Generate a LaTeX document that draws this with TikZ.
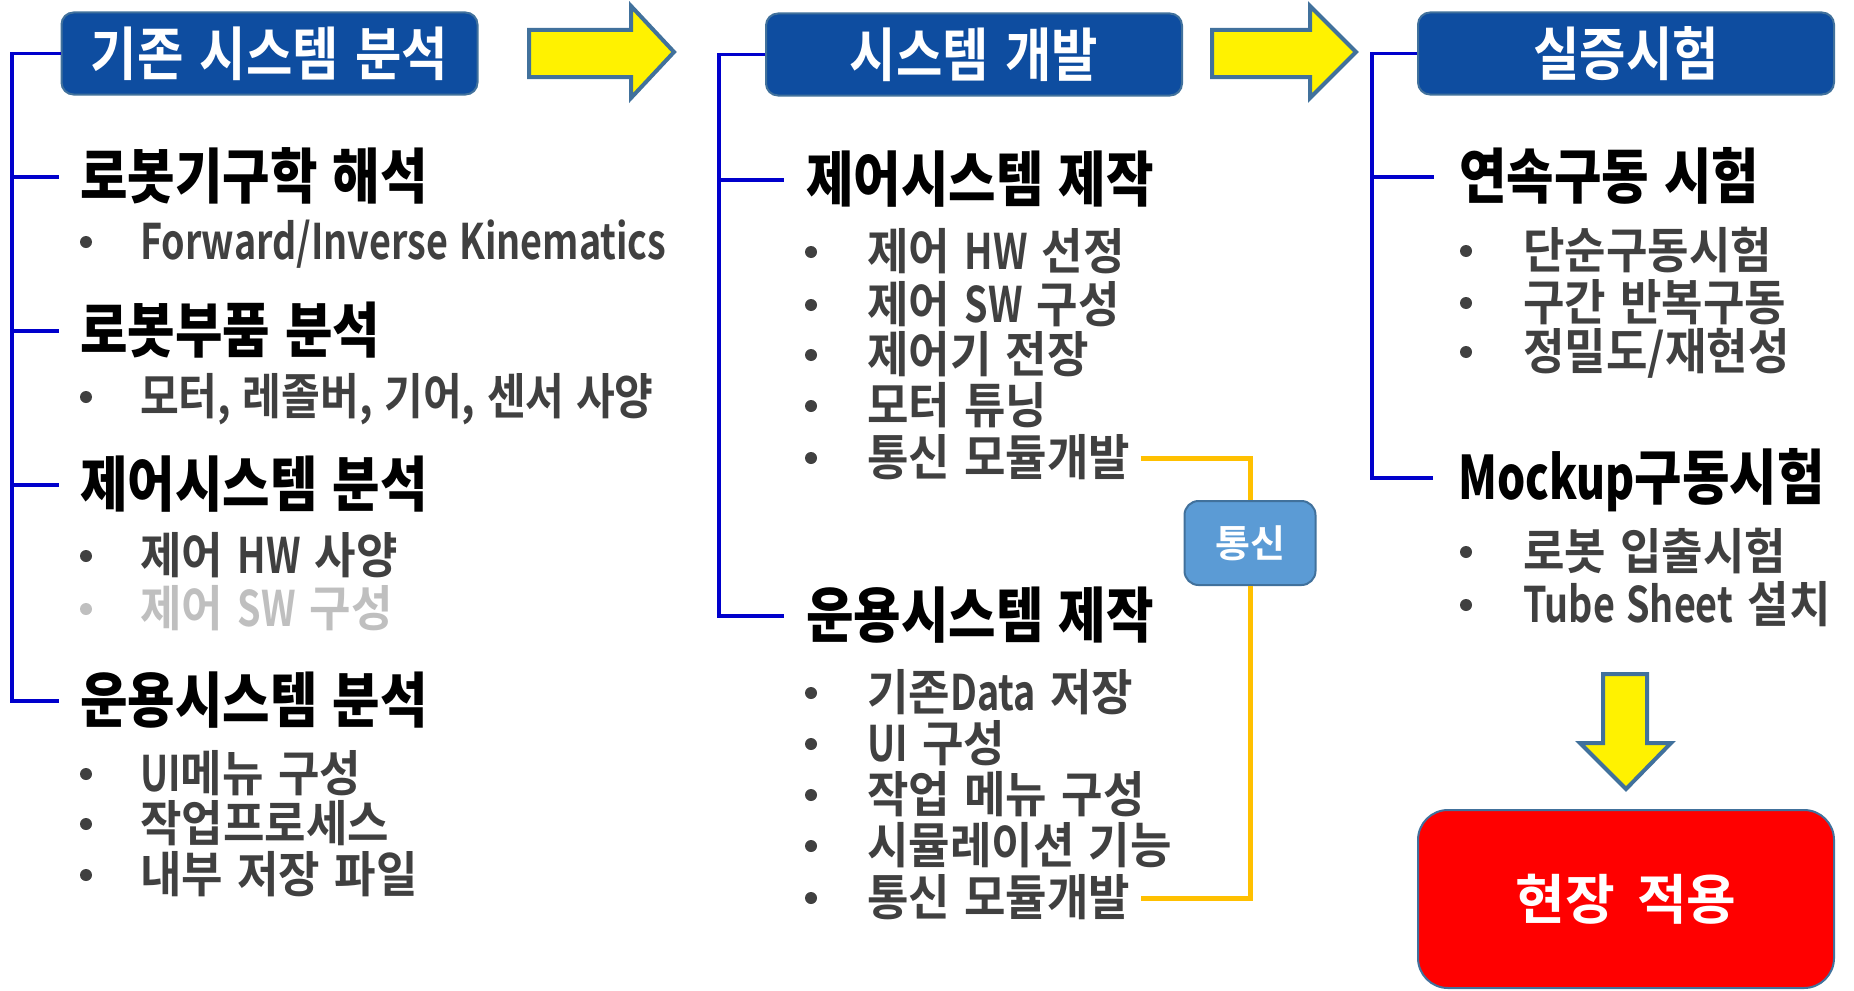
\documentclass[tikz,border=0pt]{standalone}
\usepackage{fontspec}
\newfontfamily\krh{Noto Sans CJK KR Black}[FakeStretch=0.86, WordSpace=1.3]
\newfontfamily\krhl{Noto Sans CJK KR Black}[FakeStretch=0.74]
\newfontfamily\kri{Noto Sans CJK KR Bold}[FakeStretch=0.92, WordSpace=1.4]
\newfontfamily\krin{Noto Sans CJK KR Bold}[FakeStretch=0.86, WordSpace=1.2]
\newfontfamily\kril{Noto Sans CJK KR Bold}[FakeStretch=0.77, WordSpace=1.3]
\newfontfamily\krb{Noto Sans CJK KR Bold}[FakeStretch=0.87, WordSpace=1.4]
\newfontfamily\krr{Noto Sans CJK KR Bold}[WordSpace=1.8]
\newcommand\txtLI[1]{{\kril #1}}
\newcommand\txtLH[1]{{\krhl #1}}
\definecolor{hdrblue}{HTML}{0E4DA0}
\definecolor{edgeblue}{HTML}{41719C}
\definecolor{lineblue}{HTML}{0000CC}
\definecolor{itemgray}{HTML}{404040}
\definecolor{lightitem}{HTML}{BFBFBF}
\definecolor{commblue}{HTML}{5B9BD5}
\definecolor{gold}{HTML}{FFC000}
\begin{document}
\begin{tikzpicture}[x=1pt,y=-1pt,
  hdr/.style={draw=edgeblue, line width=2pt, fill=hdrblue, rounded corners=12pt, text=white,
    font=\krb\fontsize{58}{64}\selectfont, minimum width=416pt, minimum height=82pt, inner sep=0pt},
  head/.style={anchor=west, inner sep=0pt, text height=50pt, text depth=8pt,
    font=\krh\fontsize{60}{66}\selectfont, text=black},
  item/.style={anchor=west, inner sep=0pt, text height=42pt, text depth=7pt,
    font=\kri\fontsize{49}{55}\selectfont, text=itemgray},
  bl/.style={draw=lineblue, line width=3.5pt},
  yl/.style={draw=gold, line width=5pt},
  yarrow/.style={fill=yellow, draw=edgeblue, line width=4pt, line join=miter},
  bul/.style={fill=itemgray}]
\useasboundingbox (0,0) rectangle (1854,990);

% header boxes
\node[hdr] (b1) at (269.5,53.5) {기존 시스템 분석};
\node[hdr] (b2) at (974,54.5) {시스템 개발};
\node[hdr] (b3) at (1626,53.5) {실증시험};

% yellow arrows
\draw[yarrow] (529,30) -- (631,30) -- (631,6) -- (674,52) -- (631,98) -- (631,77) -- (529,77) -- cycle;
\draw[yarrow] (1212,30) -- (1310,30) -- (1310,6) -- (1356,52) -- (1310,98) -- (1310,77) -- (1212,77) -- cycle;
\draw[yarrow] (1603,674) -- (1647,674) -- (1647,743) -- (1671,743) -- (1626,789) -- (1580,743) -- (1603,743) -- cycle;

% column 1
\node[head] (h11) at (80,177) {로봇기구학 해석};
\node[item] (i11) at (140,242) {\txtLI{Forward/Inverse Kinematics}};
\node[head] (h12) at (80,331) {로봇부품 분석};
\node[item, font=\krin\fontsize{49}{55}\selectfont] (i12) at (140,397) {모터, 레졸버, 기어, 센서 사양};
\node[head] (h13) at (80,485) {제어시스템 분석};
\node[item] (i13) at (140,556) {제어 \txtLI{HW} 사양};
\node[item, text=lightitem] (i14) at (140,609) {제어 \txtLI{SW} 구성};
\node[head] (h14) at (80,701) {운용시스템 분석};
\node[item] (i15) at (140,774) {\txtLI{UI}메뉴 구성};
\node[item] (i16) at (140,824) {작업프로세스};
\node[item] (i17) at (140,875) {내부 저장 파일};
\foreach \y in {242,397,556,774,824,875} \fill[bul] (86,\y) circle (6);
\fill[lightitem] (86,609) circle (6);

\coordinate (s1) at (12,53);
\draw[bl] (b1.west) -| (s1 |- h14.west) -- ([xshift=-21pt]h14.west);
\foreach \h in {h11,h12,h13} \draw[bl] (s1 |- \h.west) -- ([xshift=-21pt]\h.west);

% column 2
\node[head] (h21) at (806,180) {제어시스템 제작};
\node[item] (i21) at (867,252) {제어 \txtLI{HW} 선정};
\node[item] (i22) at (867,305) {제어 \txtLI{SW} 구성};
\node[item] (i23) at (867,355) {제어기 전장};
\node[item] (i24) at (867,406) {모터 튜닝};
\node[item] (i25) at (867,458) {통신 모듈개발};
\node[head] (h22) at (806,616) {운용시스템 제작};
\node[item] (i26) at (867,693) {기존\txtLI{Data} 저장};
\node[item] (i27) at (867,744) {\txtLI{UI} 구성};
\node[item] (i28) at (867,795) {작업 메뉴 구성};
\node[item] (i29) at (867,846) {시뮬레이션 기능};
\node[item] (i210) at (867,898) {통신 모듈개발};
\foreach \y in {252,305,355,406,458,693,744,795,846,898} \fill[bul] (811,\y) circle (6);

\coordinate (s2) at (719,54);
\draw[bl] (b2.west) -| (s2 |- h22.west) -- ([xshift=-22pt]h22.west);
\draw[bl] (s2 |- h21.west) -- ([xshift=-22pt]h21.west);

% communication link
\node[draw=edgeblue, line width=2pt, fill=commblue, rounded corners=14pt, minimum width=131pt,
  minimum height=84pt, inner sep=0pt, text=white, font=\krr\fontsize{38}{42}\selectfont] (comm) at (1250,543) {통신};
\draw[yl] ([xshift=10pt]i25.east) -| (comm.north);
\draw[yl] (comm.south) |- ([xshift=10pt]i210.east);

% column 3
\node[head] (h31) at (1459,177) {연속구동 시험};
\node[item] (i31) at (1523,251) {단순구동시험};
\node[item] (i32) at (1523,303) {구간 반복구동};
\node[item] (i33) at (1523,352) {정밀도/재현성};
\node[head] (h32) at (1458,478) {\txtLH{Mockup}구동시험};
\node[item] (i34) at (1523,552) {로봇 입출시험};
\node[item] (i35) at (1523,605) {\txtLI{Tube Sheet} 설치};
\foreach \y in {251,303,352,552,605} \fill[bul] (1466,\y) circle (6);

\coordinate (s3) at (1372,54);
\draw[bl] (b3.west) -| (s3 |- h32.west) -- ([xshift=-25pt]h32.west);
\draw[bl] (s3 |- h31.west) -- ([xshift=-25pt]h31.west);

% final box
\node[draw=edgeblue, line width=2pt, fill=red, rounded corners=30pt, minimum width=416pt,
  minimum height=178pt, inner sep=0pt, text=white, font=\krr\fontsize{54}{60}\selectfont] (field) at (1626,899) {현장 적용};
\end{tikzpicture}
\end{document}
